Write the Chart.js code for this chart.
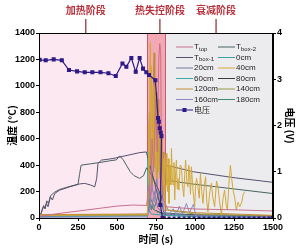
<!DOCTYPE html>
<html>
<head>
<meta charset="utf-8">
<script src="https://cdn.jsdelivr.net/npm/chart.js@4.4.0/dist/chart.umd.min.js"></script>
<style>
  html, body { margin: 0; padding: 0; background: #fff; }
  #wrap { width: 298px; height: 250px; }
</style>
</head>
<body>
<div id="wrap"><canvas id="myChart" width="298" height="250"></canvas></div>
<script>
// time (s) / value pairs
const tTop = [[0,12],[100,30],[200,45],[300,60],[400,75],[500,90],[600,98],[690,95],[705,250],[715,150],[725,600],[735,350],[748,900],[758,500],[768,1200],[774,1320],[780,1250],[786,300],[795,150],[815,85],[1000,68],[1250,62],[1500,53]];
const tBox2 = [[0,5],[15,40],[30,95],[40,70],[50,130],[60,110],[75,170],[100,195],[130,215],[200,240],[250,255],[260,330],[270,400],[330,410],[390,420],[450,432],[496,440],[517,470],[540,440],[560,400],[585,350],[610,320],[645,300],[670,320],[690,380],[720,330],[760,230],[790,150],[805,270],[815,285],[1000,255],[1250,220],[1500,185]];
const tBox1 = [[0,8],[12,30],[25,80],[37,73],[47,111],[58,85],[73,160],[86,136],[101,186],[133,211],[197,236],[261,258],[293,262],[330,250],[357,236],[370,300],[378,413],[400,438],[474,450],[550,470],[646,495],[688,500],[731,312],[774,110],[800,200],[815,400],[990,350],[1250,305],[1500,270]];
const cm0 = [[0,18],[200,20],[400,22],[600,24],[695,25],[700,300],[705,60],[720,30],[800,20],[1000,10],[1500,5]];
const cm20 = [[0,15],[300,18],[695,20],[705,150],[720,60],[740,200],[760,80],[790,40],[815,30],[1000,20],[1500,10]];
const cm40 = [[0,20],[300,22],[695,25],[700,200],[703,700],[706,400],[710,1100],[714,1330],[718,700],[720,1000],[722,1150],[725,600],[728,450],[731,900],[734,1000],[737,500],[740,380],[743,800],[746,850],[749,450],[752,300],[756,700],[760,780],[764,400],[768,350],[772,700],[776,650],[780,300],[785,513],[790,350],[795,180],[800,450],[806,85],[811,420],[816,488],[820,250],[825,200],[829,450],[833,111],[840,400],[845,250],[849,526],[855,300],[860,250],[865,420],[870,136],[876,350],[881,438],[886,220],[890,300],[897,211],[905,400],[913,387],[920,250],[928,161],[934,330],[940,438],[948,260],[955,236],[960,400],[965,350],[971,180],[977,387],[988,200],[998,85],[1004,250],[1010,300],[1019,236],[1027,150],[1035,337],[1043,200],[1051,111],[1060,250],[1068,312],[1076,120],[1083,48],[1095,200],[1105,262],[1115,150],[1126,85],[1138,280],[1147,236],[1158,120],[1169,23],[1180,150],[1190,211],[1200,100],[1208,60],[1217,250],[1227,400],[1235,300],[1244,211],[1255,150],[1265,60],[1276,120],[1287,85],[1300,120],[1308,174],[1318,200]];
const cm60 = [[0,10],[695,15],[697,500],[700,30],[720,100],[750,50],[800,20],[1500,8]];
const cm80 = [[0,22],[695,28],[710,100],[740,60],[800,30],[1500,15]];
const cm120 = [[0,25],[300,28],[695,30],[702,300],[705,700],[708,800],[712,450],[715,400],[719,900],[722,1000],[726,700],[730,600],[734,1100],[738,1250],[742,700],[745,500],[749,800],[752,950],[756,600],[760,400],[764,900],[768,800],[772,450],[776,300],[780,700],[784,600],[788,350],[792,200],[796,500],[800,350],[805,250],[810,100],[830,60],[1000,40],[1500,20]];
const cm140 = [[0,20],[695,22],[712,500],[725,200],[740,700],[755,250],[770,600],[785,100],[800,250],[815,60],[1000,30],[1500,15]];
const cm160 = [[0,5],[695,8],[710,80],[725,250],[740,120],[755,300],[770,100],[785,200],[800,60],[830,20],[860,70],[880,25],[900,90],[920,30],[945,110],[965,40],[990,105],[1005,15],[1030,5],[1500,0]];
const cm180 = [[0,12],[695,18],[715,150],[740,80],[770,200],[800,40],[1000,20],[1500,10]];
const voltage = [[4,3.42],[43,3.41],[94,3.43],[146,3.41],[192,3.20],[244,3.17],[293,3.15],[342,3.15],[394,3.15],[445,3.13],[492,3.07],[535,3.34],[560,3.27],[592,3.46],[620,3.16],[645,3.46],[667,3.23],[688,3.15],[705,3.09],[746,2.98],[763,2.16],[768,2.08],[774,1.94],[780,1.85],[785,1.77],[778,0.28],[792,0],[1500,0]];

// phases (s)
const phaseNames = ['加热阶段', '热失控阶段', '衰减阶段'];
const phaseMarks = [300, 775, 1135];
const runawayStart = 695, runawayEnd = 810;

const toXY = arr => arr.map(p => ({x: p[0], y: p[1]}));

const series = [
  {label: 'T', sub: 'top', data: tTop, color: '#c8708a', order: 1},
  {label: 'T', sub: 'box-2', data: tBox2, color: '#4a6262', order: 5},
  {label: 'T', sub: 'box-1', data: tBox1, color: '#55526e', order: 4},
  {label: '0cm', data: cm0, color: '#40a0a0', order: 9},
  {label: '20cm', data: cm20, color: '#7878a0', order: 8},
  {label: '40cm', data: cm40, color: '#d4a838', order: 2},
  {label: '60cm', data: cm60, color: '#40aaa8', order: 10},
  {label: '80cm', data: cm80, color: '#3c3c3c', order: 11},
  {label: '120cm', data: cm120, color: '#c08a38', order: 3},
  {label: '140cm', data: cm140, color: '#9a9a48', order: 7},
  {label: '160cm', data: cm160, color: '#9088c8', order: 6},
  {label: '180cm', data: cm180, color: '#3f8a7a', order: 12}
];

const datasets = series.map(s => ({
  label: s.label, sub: s.sub, data: toXY(s.data), borderColor: s.color,
  borderWidth: 1, pointRadius: 0, tension: 0, yAxisID: 'y', order: s.order
}));
datasets.push({
  label: '电压', data: toXY(voltage), borderColor: '#2e1a86', backgroundColor: '#2e1a86',
  borderWidth: 1.2, pointStyle: 'rect', pointRadius: 2, yAxisID: 'y2', order: 0,
  segment: { borderDash: ctx => (ctx.p0.parsed.y === 0 && ctx.p1.parsed.y === 0 ? [3, 2] : undefined),
             borderWidth: ctx => (ctx.p0.parsed.y === 0 && ctx.p1.parsed.y === 0 ? 3 : 1.2) }
});

const bgPlugin = {
  id: 'phaseBg',
  beforeDatasetsDraw(chart) {
    const {ctx, chartArea: a, scales: {x}} = chart;
    const x1 = x.getPixelForValue(runawayStart), x2 = x.getPixelForValue(runawayEnd);
    ctx.save();
    ctx.fillStyle = '#fbe8f1';
    ctx.fillRect(a.left, a.top, x1 - a.left, a.height);
    ctx.fillStyle = '#f3a9b3';
    ctx.fillRect(x1, a.top, x2 - x1, a.height);
    ctx.fillStyle = '#ececee';
    ctx.fillRect(x2, a.top, a.right - x2, a.height);
    ctx.strokeStyle = '#c85a6e';
    ctx.lineWidth = 1;
    ctx.beginPath();
    ctx.moveTo(Math.round(x1) + 0.5, a.top); ctx.lineTo(Math.round(x1) + 0.5, a.bottom);
    ctx.moveTo(Math.round(x2) + 0.5, a.top); ctx.lineTo(Math.round(x2) + 0.5, a.bottom);
    ctx.stroke();
    ctx.restore();
  },
  afterDraw(chart) {
    const {ctx, chartArea: a, scales: {x}} = chart;
    ctx.save();
    // frame top
    ctx.strokeStyle = '#000';
    ctx.lineWidth = 1;
    ctx.strokeRect(a.left + 0.5, a.top + 0.5, a.width - 1, a.height);
    // phase labels
    ctx.font = 'bold 10px "Noto Sans CJK SC"';
    ctx.textAlign = 'center';
    ctx.textBaseline = 'middle';
    phaseNames.forEach((n, i) => {
      const px = x.getPixelForValue(phaseMarks[i]);
      ctx.fillStyle = '#b8323c';
      ctx.fillText(n, px, 10);
      ctx.strokeStyle = '#8a2a30';
      ctx.lineWidth = 1.2;
      ctx.beginPath();
      ctx.moveTo(px, 19); ctx.lineTo(px, a.top);
      ctx.stroke();
    });
    // legend
    ctx.textAlign = 'left';
    chart.data.datasets.forEach((d, i) => {
      const col = i % 2, row = Math.floor(i / 2);
      const lx = col === 0 ? 176 : 218;
      const ly = 47 + row * 10.5;
      ctx.strokeStyle = d.borderColor;
      ctx.lineWidth = 1;
      ctx.beginPath();
      ctx.moveTo(lx, ly); ctx.lineTo(lx + 17, ly);
      ctx.stroke();
      if (d.pointStyle === 'rect') {
        ctx.fillStyle = d.borderColor;
        ctx.fillRect(lx + 6.5, ly - 2, 4, 4);
      }
      ctx.fillStyle = '#222';
      if (d.sub) {
        ctx.font = '8px "Liberation Sans"';
        ctx.fillText(d.label, lx + 18, ly);
        ctx.font = '6px "Liberation Sans"';
        ctx.fillText(d.sub, lx + 23, ly + 2);
      } else {
        ctx.font = (d.pointStyle === 'rect' ? '8px "Noto Sans CJK SC"' : '8px "Liberation Sans"');
        ctx.fillText(d.label, lx + 18, ly);
      }
    });
    ctx.restore();
  }
};

const tickFont = {family: 'Liberation Sans', size: 9, weight: 'bold'};
const titleFont = {family: 'Noto Sans CJK SC', size: 10, weight: 'bold'};
const plain = v => String(v);

new Chart(document.getElementById('myChart'), {
  type: 'line',
  data: { datasets },
  plugins: [bgPlugin],
  options: {
    responsive: false,
    animation: false,
    layout: { padding: { top: 33 } },
    plugins: { legend: { display: false }, tooltip: { enabled: false } },
    scales: {
      x: {
        type: 'linear', min: 0, max: 1500,
        ticks: { stepSize: 250, color: '#000', font: tickFont, padding: 1, maxRotation: 0, callback: plain },
        grid: { drawOnChartArea: false, color: '#000', tickLength: 3 },
        border: { color: '#000' },
        title: { display: true, text: '时间 (s)', color: '#000', font: titleFont, padding: { top: 0, bottom: 5 } },
        afterFit: s => { s.height = 32; }
      },
      y: {
        position: 'left', min: 0, max: 1400,
        ticks: { stepSize: 200, color: '#000', font: tickFont, padding: 1, callback: plain },
        grid: { drawOnChartArea: false, color: '#000', tickLength: 3 },
        border: { color: '#000' },
        title: { display: true, text: '温度 (°C)', color: '#000', font: titleFont, padding: { top: 6 } },
        afterFit: s => { s.width = 39; }
      },
      y2: {
        position: 'right', min: 0, max: 4,
        ticks: { stepSize: 1, color: '#000', font: tickFont, padding: 1, callback: plain },
        grid: { drawOnChartArea: false, color: '#000', tickLength: 3 },
        border: { color: '#000' },
        title: { display: true, text: '电压 (V)', color: '#000', font: titleFont, padding: { top: 2 } },
        afterFit: s => { s.width = 25; }
      }
    }
  }
});
</script>
</body>
</html>
